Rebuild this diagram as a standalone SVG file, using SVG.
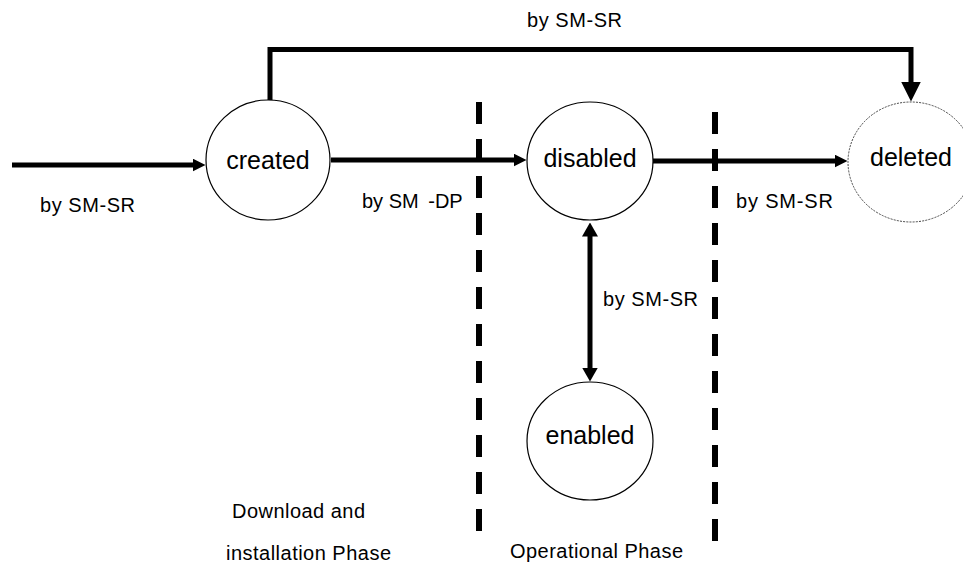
<svg xmlns="http://www.w3.org/2000/svg" width="963" height="563" viewBox="0 0 963 563">
<style>
  text { font-family: "Liberation Sans", Arial, sans-serif; fill: #000; }
  .lbl { font-size: 20px; }
  .node { font-size: 25px; text-anchor: middle; }
  .state { fill: #fff; stroke: #000; stroke-width: 1.2; }
  .final { fill: #fff; stroke: #444; stroke-width: 1; stroke-dasharray: 2 1.2; }
  .conn { fill: none; stroke: #000; stroke-width: 5; }
  .phase { fill: none; stroke: #000; stroke-width: 6; stroke-dasharray: 22 15; }
</style>
<defs>
  <marker id="ah" markerUnits="userSpaceOnUse" viewBox="0 0 13 13" refX="0.5" refY="6.5" markerWidth="13" markerHeight="13" orient="auto">
    <path d="M0,0 L13,6.5 L0,13 z" fill="#000"/>
  </marker>
  <marker id="ahv" markerUnits="userSpaceOnUse" viewBox="0 0 14 16" refX="0.5" refY="8" markerWidth="14" markerHeight="16" orient="auto-start-reverse">
    <path d="M0,0 L14,8 L0,16 z" fill="#000"/>
  </marker>
  <marker id="ahb" markerUnits="userSpaceOnUse" viewBox="0 0 20 20" refX="0.5" refY="10" markerWidth="20" markerHeight="20" orient="auto">
    <path d="M0,0 L20,10 L0,20 z" fill="#000"/>
  </marker>
</defs>

<g id="phases">
  <line class="phase" x1="479" y1="102" x2="479" y2="545"/>
  <line class="phase" x1="715" y1="112" x2="715" y2="550"/>
</g>

<g id="connectors">
  <path class="conn" d="M12,165 H193" marker-end="url(#ah)"/>
  <path class="conn" d="M331,160 H514" marker-end="url(#ah)"/>
  <path class="conn" d="M653,161 H835" marker-end="url(#ah)"/>
  <path class="conn" d="M270,100 V49.5 H911 V82" stroke-width="6" marker-end="url(#ahb)"/>
  <path class="conn" d="M590,236 V368" stroke-width="6" marker-start="url(#ahv)" marker-end="url(#ahv)"/>
</g>

<g id="created">
  <ellipse class="state" cx="268" cy="160" rx="62" ry="60"/>
  <text class="node" x="268" y="169">created</text>
</g>
<g id="disabled">
  <ellipse class="state" cx="590" cy="161" rx="63" ry="59"/>
  <text class="node" x="590" y="167">disabled</text>
</g>
<g id="enabled">
  <ellipse class="state" cx="590" cy="441" rx="63" ry="59"/>
  <text class="node" x="590" y="444">enabled</text>
</g>
<g id="deleted">
  <ellipse class="final" cx="911" cy="162" rx="63" ry="60"/>
  <text class="node" x="911" y="166">deleted</text>
</g>

<g id="labels">
  <text class="lbl" x="527" y="27" textLength="95" lengthAdjust="spacing">by SM-SR</text>
  <text class="lbl" x="40" y="212" textLength="95" lengthAdjust="spacing">by SM-SR</text>
  <text class="lbl" x="362" y="208">by SM <tspan dx="4">-DP</tspan></text>
  <text class="lbl" x="736" y="208" textLength="97" lengthAdjust="spacing">by SM-SR</text>
  <text class="lbl" x="603" y="306" textLength="95" lengthAdjust="spacing">by SM-SR</text>
  <text class="lbl" x="232" y="518" textLength="133" lengthAdjust="spacing">Download and</text>
  <text class="lbl" x="226" y="560" textLength="165" lengthAdjust="spacing">installation Phase</text>
  <text class="lbl" x="510" y="558" textLength="173" lengthAdjust="spacing">Operational Phase</text>
</g>
</svg>
